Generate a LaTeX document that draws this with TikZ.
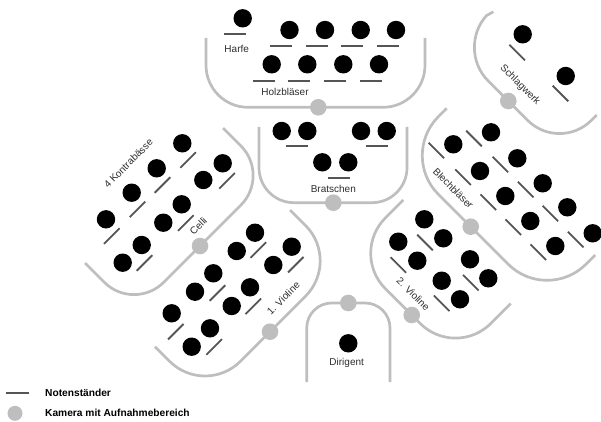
\documentclass[tikz,border=0pt]{standalone}
\usepackage{fontspec}
\setmainfont{Liberation Sans}
\definecolor{zonegray}{RGB}{190,190,190}
\definecolor{standgray}{RGB}{85,85,85}
\definecolor{labelgray}{RGB}{45,45,45}
\begin{document}
\begin{tikzpicture}[x=1pt,y=-1pt,
  zone/.style={draw=zonegray, line width=2.7pt},
  player/.style={circle, fill=black, minimum size=18.4pt, inner sep=0pt},
  cam/.style={circle, fill=zonegray, minimum size=16.6pt, inner sep=0pt},
  stand/.style={rectangle, fill=standgray, minimum width=22pt, minimum height=1.8pt, inner sep=0pt},
  lbl/.style={text=labelgray, font=\fontsize{10}{12}\selectfont, inner sep=0pt},
  legtext/.style={text=black, font=\fontsize{10.2}{12}\selectfont\bfseries, inner sep=0pt, anchor=west}]
\useasboundingbox (0,0) rectangle (601,422);

% zones
\draw[zone, rounded corners=42pt] (206,38) -- (206,107.3) -- (425,107.3) -- (425,38);
\draw[zone, rounded corners=35pt] (259,127) -- (259,202.7) -- (407,202.7) -- (407,127);
\draw[zone, rounded corners=25pt] (306.7,382) -- (306.7,303) -- (390,303) -- (390,382);
\draw[zone, rounded corners=45pt] (493.3,11.8) -- (456.2,48.9) -- (559.5,152.2) -- (596.7,115);
\draw[zone, rounded corners=55pt] (446.7,108.3) -- (399.5,155.5) -- (547.1,303.1) -- (595.2,255);
\draw[zone, rounded corners=50pt] (403.3,200) -- (350,253.3) -- (455.5,358.8) -- (510.7,303.6);
\draw[zone, rounded corners=42pt] (223,128) -- (270.5,175.5) -- (134,312) -- (85,263);
\draw[zone, rounded corners=50pt] (290,210) -- (340.9,260.8) -- (205,396.7) -- (155,346.7);

% cameras
\node[cam] (camHolz) at (318.3,107.3) {};
\node[cam] (camSchlag) at (508.3,101) {};
\node[cam] (camBlech) at (470.7,226.7) {};
\node[cam] (camBrat) at (333.3,202.7) {};
\node[cam] (camCelli) at (200,246) {};
\node[cam] (camVa) at (270,331.7) {};
\node[cam] (camVb) at (411.7,315) {};
\node[cam] (camDir) at (348.3,303) {};

% Holzblaeser + Harfe
\node[player] (harfe) at (242.7,18.3) {};
\node[stand] (sharfe) at (234.5,34) {};
\foreach \x [count=\i] in {289.5,325,360.7,396} {
  \node[player] (hT\i) at (\x,30) {};
  \node[stand] (shT\i) at (\x-8.3,45.7) {};
}
\foreach \x [count=\i] in {271.7,307.3,343.3,379} {
  \node[player] (hB\i) at (\x,64.3) {};
  \node[stand] (shB\i) at (\x-8,81) {};
}

% Schlagwerk
\node[player] (sw1) at (522.7,34.3) {};
\node[stand, rotate=-45] (ssw1) at (517.2,52.5) {};
\node[player] (sw2) at (565.7,76) {};
\node[stand, rotate=-45] (ssw2) at (560.5,93.5) {};

% Blechblaeser
\foreach \x/\y [count=\i] in {491/132.3,517.3/158.3,542.7/183.3,567.3/207.3,592.7/233.3,453.3/144.3,480/171,505.3/196,530.3/221,555.3/246} {
  \node[player] (bl\i) at (\x,\y) {};
  \node[stand, rotate=-45] (sbl\i) at (\x-17,\y+6.2) {};
}

% Bratschen
\foreach \x/\y [count=\i] in {281.7/131,307.3/131,361/131,386.7/131,322.3/162.3,348.3/162.3} {
  \node[player] (br\i) at (\x,\y) {};
}
\node[stand] (sbr1) at (297.3,146) {};
\node[stand] (sbr2) at (377,146) {};
\node[stand] (sbr3) at (338.5,177.7) {};

% Dirigent
\node[player] (dir) at (348.3,343.3) {};

% Celli
\foreach \x/\y [count=\i] in {222.7/163.3,203.3/180,181.7/204.3,163.3/222.7,141.7/245,122.7/262.7} {
  \node[player] (vc\i) at (\x,\y) {};
}
\node[stand, rotate=45] (svc1) at (227,180.8) {};
\node[stand, rotate=45] (svc2) at (185.8,223) {};
\node[stand, rotate=45] (svc3) at (144.5,263) {};

% Kontrabaesse
\foreach \x/\y [count=\i] in {182.3/143.3,156.7/168.3,131.7/192.7,106/219.3} {
  \node[player] (kb\i) at (\x,\y) {};
  \node[stand, rotate=45] (skb\i) at (\x+5.8,\y+16.7) {};
}

% 1. Violine
\foreach \x/\y [count=\i] in {236.7/251,255/232.7,273.3/265,291.7/246.7,195/291.7,213.3/273.3,231.7/306,250/287.3,191.7/346.7,210/328.3,171.7/313.3} {
  \node[player] (va\i) at (\x,\y) {};
}
\foreach \x/\y [count=\i] in {258.3/250,295.8/264.7,217.5/293,253.3/306.3,214.2/347,175.8/331.7} {
  \node[stand, rotate=45] (sva\i) at (\x,\y) {};
}

% 2. Violine
\foreach \x/\y [count=\i] in {424.3/219.3,443.3/238.3,398.3/241.7,417.3/260.7,470/259.3,488.3/278.3,441.7/280.7,460/299.3} {
  \node[player] (vb\i) at (\x,\y) {};
}
\foreach \x/\y [count=\i] in {425/242.5,398.3/265,470.8/282.7,441.7/303.3} {
  \node[stand, rotate=-45] (svb\i) at (\x,\y) {};
}

% labels
\node[lbl] (tHarfe) at (236.7,49) {Harfe};
\node[lbl] (tHolz) at (285,92.3) {Holzbläser};
\node[lbl] (tBrat) at (333.3,189.3) {Bratschen};
\node[lbl] (tDir) at (346.7,362.7) {Dirigent};
\node[lbl, rotate=-45] (tSchlag) at (520,85) {Schlagwerk};
\node[lbl, rotate=-45] (tBlech) at (453.3,188.3) {Blechbläser};
\node[lbl, rotate=-45] (tVb) at (413.3,294) {2. Violine};
\node[lbl, rotate=45] (tVa) at (283.3,298.3) {1. Violine};
\node[lbl, rotate=45] (tCelli) at (198.3,226) {Celli};
\node[lbl, rotate=45] (tKb) at (128.3,163.3) {4 Kontrabässe};

% legend
\node[stand, minimum width=23.3pt] (legStand) at (17.7,393.3) {};
\node[legtext] (legStandText) at (45,393.3) {Notenständer};
\node[cam, minimum size=15pt] (legCam) at (15,413.3) {};
\node[legtext] (legCamText) at (45,413.3) {Kamera mit Aufnahmebereich};
\end{tikzpicture}
\end{document}
